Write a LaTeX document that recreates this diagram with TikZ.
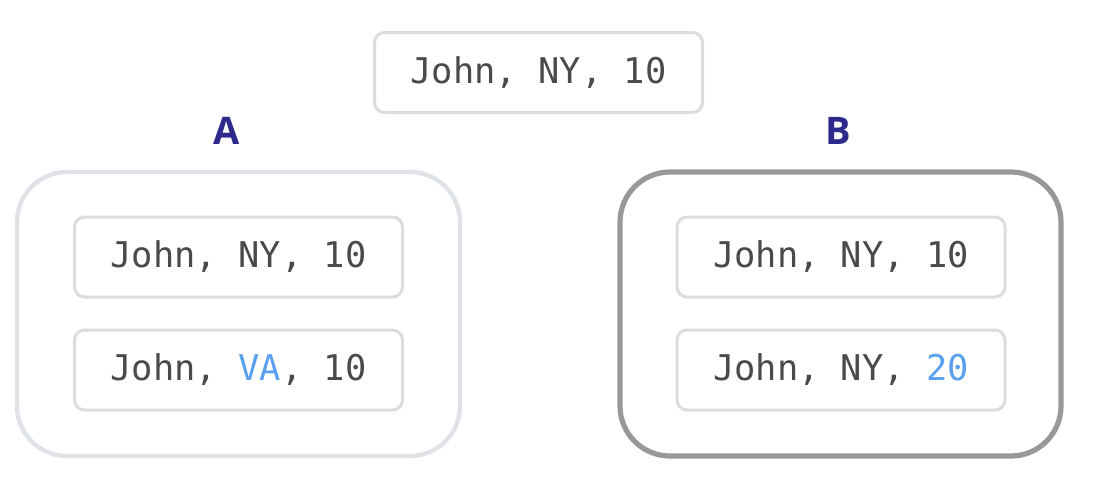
\documentclass[tikz,border=0pt]{standalone}
\usepackage{fontspec}
\setmonofont{DejaVu Sans Mono}
\setsansfont{Open Sans}
\begin{document}
\begin{tikzpicture}[x=0.5pt,y=-0.5pt,
  rec/.style={draw=boxgray,line width=1.5pt,rounded corners=5pt,fill=white,
    minimum width=164pt,minimum height=40pt,inner sep=0pt,
    font=\ttfamily\fontsize{17.7}{20}\selectfont,text=txtgray},
  lbl/.style={font=\sffamily\bfseries\fontsize{19}{22}\selectfont,text=lblblue},
  contA/.style={draw=contlight,line width=2.2pt,rounded corners=25pt},
  contB/.style={draw=contdark,line width=2.6pt,rounded corners=25pt}]
\definecolor{boxgray}{HTML}{DCDCDC}
\definecolor{txtgray}{HTML}{4A4A4A}
\definecolor{lblblue}{HTML}{2E2A8C}
\definecolor{contlight}{HTML}{DFE3E8}
\definecolor{contdark}{HTML}{97989A}
\definecolor{hl}{HTML}{5AA0F0}
\useasboundingbox (0,0) rectangle (1098,478);
\node[rec] (top) at (538.5,72.5) {John, NY, 10};
\node[lbl] (la) at (227,131) {A};
\node[lbl] (lb) at (838,131) {B};
\draw[contA] (17,172) rectangle (460,456);
\coordinate (ca) at (238.5,314);
\draw[contB] (620,172) rectangle (1061,456);
\coordinate (cb) at (840.5,314);
\node[rec] (a1) at (238.5,257) {John, NY, 10};
\node[rec] (a2) at (238.5,370) {John, \textcolor{hl}{VA}, 10};
\node[rec] (b1) at (841,257) {John, NY, 10};
\node[rec] (b2) at (841,370) {John, NY, \textcolor{hl}{20}};
\end{tikzpicture}
\end{document}
